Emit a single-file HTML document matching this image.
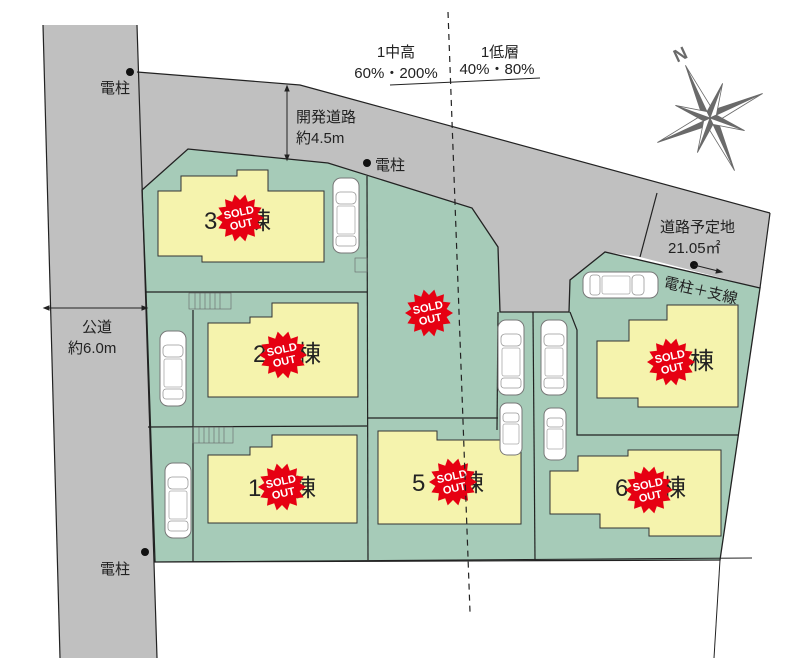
<!DOCTYPE html>
<html><head><meta charset="utf-8"><style>
html,body{margin:0;padding:0;background:#fff;width:800px;height:667px;overflow:hidden}
svg{display:block}
text{font-family:"Liberation Sans","Noto Sans CJK JP",sans-serif;fill:#222}
</style></head><body>
<svg width="800" height="667" viewBox="0 0 800 667" xmlns="http://www.w3.org/2000/svg">
<defs>
<polygon id="star" fill="#e60012" points="24,0 17.6,4 21.6,10.4 14.1,11.2 15,18.8 7.8,16.2 5.3,23.4 0,18 -5.3,23.4 -7.8,16.2 -15,18.8 -14.1,11.2 -21.6,10.4 -17.6,4 -24,0 -17.6,-4 -21.6,-10.4 -14.1,-11.2 -15,-18.8 -7.8,-16.2 -5.3,-23.4 0,-18 5.3,-23.4 7.8,-16.2 15,-18.8 14.1,-11.2 21.6,-10.4 17.6,-4"/>
<g id="badge"><use href="#star"/><g transform="rotate(-12)"><text x="0" y="-2" text-anchor="middle" font-size="11" font-weight="bold" style="fill:#fff">SOLD</text><text x="0" y="10" text-anchor="middle" font-size="11" font-weight="bold" style="fill:#fff">OUT</text></g></g>
<g id="carv"><rect x="0" y="0" width="26" height="75" rx="8" fill="#fff" stroke="#777" stroke-width="1"/><rect x="3" y="14" width="20" height="12" rx="4" fill="none" stroke="#999" stroke-width=".8"/><rect x="4" y="28" width="18" height="28" rx="2" fill="none" stroke="#aaa" stroke-width=".8"/><rect x="3" y="58" width="20" height="10" rx="3" fill="none" stroke="#999" stroke-width=".8"/></g>
<g id="cars"><rect x="0" y="0" width="22" height="52" rx="7" fill="#fff" stroke="#777" stroke-width="1"/><rect x="3" y="10" width="16" height="9" rx="3" fill="none" stroke="#999" stroke-width=".8"/><rect x="3" y="21" width="16" height="20" rx="2" fill="none" stroke="#aaa" stroke-width=".8"/></g>
</defs>

<polygon points="43,25 137,25 157,658 60,658" fill="#c0c0c0"/>
<polygon points="137,72 300,85 770,213 760,288 640,257 605,252 570,280 569,312 500,312 498,247 472,208 328,163 188,149 142,190" fill="#c0c0c0"/>
<polyline points="137,72 300,85 770,213" fill="none" stroke="#222" stroke-width="1.2"/>
<polyline points="657,193 640,257" fill="none" stroke="#222" stroke-width="1.2"/>
<line x1="43" y1="25" x2="60" y2="658" stroke="#222" stroke-width="1.2"/>

<polygon points="142,190 188,149 328,163 472,208 498,247 500,312 569,312 570,280 605,252 760,288 720,560 155,562 146,292" fill="#a6cbb8" stroke="#222" stroke-width="1.3"/>
<line x1="770" y1="213" x2="760" y2="288" stroke="#222" stroke-width="1.2"/>
<line x1="720" y1="560" x2="714" y2="658" stroke="#222" stroke-width="1"/>
<line x1="155" y1="562" x2="752" y2="558" stroke="#222" stroke-width="1"/>
<line x1="137" y1="25" x2="157" y2="658" stroke="#222" stroke-width="1.2"/>

<g stroke="#222" stroke-width="1.2" fill="none">
<line x1="146" y1="292" x2="367" y2="292"/>
<line x1="367" y1="176" x2="368" y2="560"/>
<line x1="148" y1="427" x2="367" y2="426"/>
<line x1="367" y1="418" x2="498" y2="418"/>
<line x1="498" y1="312" x2="497" y2="430"/>
<line x1="533" y1="312" x2="535" y2="560"/>
<polyline points="570,312 577,330 577,435 739,435"/>
<polyline points="193,310 193,562"/>
</g>

<g fill="#f5f3ad" stroke="#333" stroke-width="1">
<polygon points="158,191 181,191 181,176 237,176 237,170 268,170 268,191 324,191 324,262 202,262 202,256 158,256"/>
<polygon points="208,323 250,323 250,317 272,317 272,303 358,303 358,397 208,397"/>
<polygon points="208,455 250,455 250,447 272,447 272,435 357,435 357,523 208,523"/>
<polygon points="378,431 437,431 437,440 521,440 521,524 378,524"/>
<polygon points="597,341 629,341 629,320 667,320 667,305 738,305 738,407 638,407 638,398 597,398"/>
<polygon points="550,471 578,471 578,456 628,456 628,450 721,450 721,536 649,536 649,528 600,528 600,514 550,514"/>
</g>

<g stroke="#666" stroke-width=".6" fill="none">
<rect x="355" y="258" width="12" height="14"/><rect x="189" y="293" width="42" height="16"/><rect x="193" y="427" width="40" height="16"/>
<path d="M195,293v16M200,293v16M205,293v16M210,293v16M215,293v16M220,293v16M199,427v16M204,427v16M209,427v16M214,427v16M219,427v16M224,427v16"/>
</g>

<use href="#carv" x="333" y="178"/>
<use href="#carv" x="160" y="331"/>
<use href="#carv" x="165" y="463"/>
<use href="#carv" x="498" y="320"/>
<use href="#carv" x="541" y="320"/>
<use href="#cars" x="500" y="403"/>
<use href="#cars" x="544" y="408"/>
<use href="#carv" transform="translate(658,272) rotate(90)"/>

<g font-size="24">
<text x="204" y="229">3</text><text x="247" y="229">棟</text>
<text x="253" y="362">2</text><text x="297" y="362">棟</text>
<text x="248" y="496">1</text><text x="292" y="496">棟</text>
<text x="412" y="491">5</text><text x="460" y="491">棟</text>
<text x="615" y="496">6</text><text x="662" y="496">棟</text>
<text x="650" y="369">7</text><text x="690" y="369">棟</text>
</g>
<use href="#badge" x="240" y="218"/>
<use href="#badge" x="429" y="313"/>
<use href="#badge" x="283" y="355"/>
<use href="#badge" x="282" y="487"/>
<use href="#badge" x="453" y="482"/>
<use href="#badge" x="671" y="362"/>
<use href="#badge" x="649" y="490"/>

<line x1="448" y1="12" x2="470" y2="612" stroke="#222" stroke-width="1.2" stroke-dasharray="6,5"/>
<line x1="390" y1="85" x2="540" y2="78" stroke="#222" stroke-width="1"/>
<g font-size="15">
<text x="396" y="57" text-anchor="middle">1中高</text>
<text x="396" y="78" text-anchor="middle">60%・200%</text>
<text x="500" y="57" text-anchor="middle">1低層</text>
<text x="497" y="74" text-anchor="middle">40%・80%</text>
<text x="296" y="122">開発道路</text>
<text x="296" y="143">約4.5m</text>
<text x="100" y="93">電柱</text>
<text x="375" y="170">電柱</text>
<text x="82" y="332">公道</text>
<text x="68" y="353">約6.0m</text>
<text x="100" y="574">電柱</text>
<text x="660" y="232">道路予定地</text>
<text x="668" y="253">21.05㎡</text>
<text x="663" y="287" transform="rotate(13 663 287)">電柱＋支線</text>
</g>
<circle cx="130" cy="72" r="4" fill="#111"/>
<circle cx="367" cy="163" r="4" fill="#111"/>
<circle cx="145" cy="552" r="4" fill="#111"/>
<circle cx="694" cy="265" r="4" fill="#111"/>
<g stroke="#222" stroke-width="1" fill="#222">
<line x1="694" y1="265" x2="722" y2="272"/><path d="M722,272 l-5,-3 l-1,4z"/>
<line x1="287" y1="86" x2="287" y2="160"/><path d="M287,86 l-2,5 h4z M287,160 l-2,-5 h4z"/>
<line x1="44" y1="308" x2="147" y2="308"/><path d="M44,308 l5,-2 v4z M147,308 l-5,-2 v4z"/>
</g>

<g transform="translate(710,118) rotate(-25)">
<g fill="#6a6a6a" stroke="#6a6a6a" stroke-width=".8">
<polygon points="0,-58 -6,-6 0,0"/><polygon points="0,-58 6,-6 0,0" fill="#fff"/>
<polygon points="58,0 6,-6 0,0"/><polygon points="58,0 6,6 0,0" fill="#fff"/>
<polygon points="0,58 6,6 0,0"/><polygon points="0,58 -6,6 0,0" fill="#fff"/>
<polygon points="-58,0 -6,6 0,0"/><polygon points="-58,0 -6,-6 0,0" fill="#fff"/>
<polygon points="26,-26 0,-7 0,0"/><polygon points="26,-26 7,0 0,0" fill="#fff"/>
<polygon points="26,26 7,0 0,0"/><polygon points="26,26 0,7 0,0" fill="#fff"/>
<polygon points="-26,26 0,7 0,0"/><polygon points="-26,26 -7,0 0,0" fill="#fff"/>
<polygon points="-26,-26 -7,0 0,0"/><polygon points="-26,-26 0,-7 0,0" fill="#fff"/>
</g>
<text x="0" y="-64" text-anchor="middle" font-size="18" font-weight="bold" style="fill:#6a6a6a">N</text>
</g>
</svg>
</body></html>
